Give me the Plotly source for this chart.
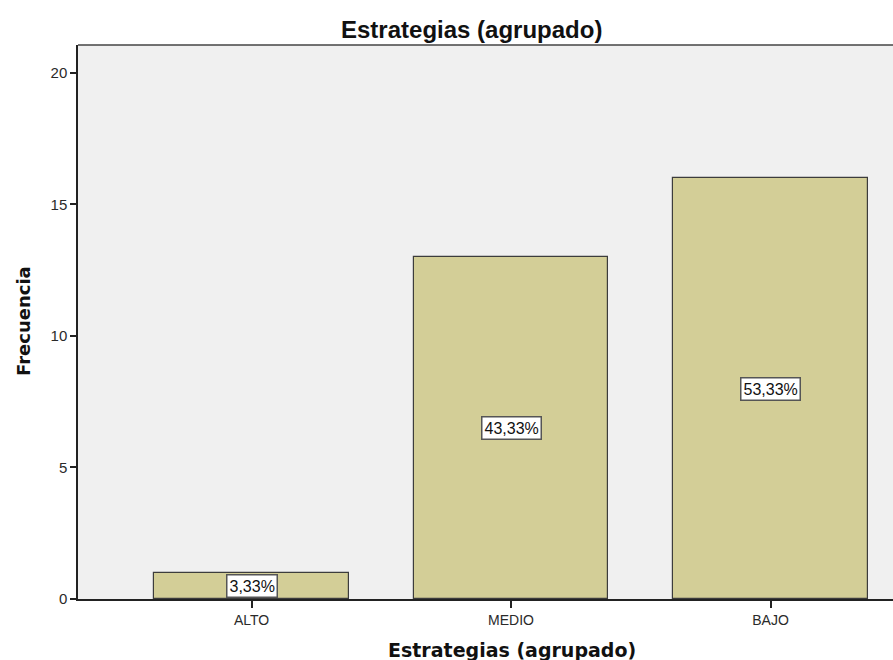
import plotly.graph_objects as go

categories = ["ALTO", "MEDIO", "BAJO"]
counts = [1, 13, 16]
pct_labels = ["3,33%", "43,33%", "53,33%"]
y_ticks = [0, 5, 10, 15, 20]

BAR_FILL = "#d3ce97"
BAR_EDGE = "#3c3c3c"
PLOT_BG = "#f0f0f0"

fig = go.Figure()
fig.add_trace(go.Bar(
    x=list(range(len(categories))), y=counts, width=0.75,
    marker=dict(color=BAR_FILL, line=dict(color=BAR_EDGE, width=1.2)),
    hoverinfo="skip",
))

# boxed percentage labels at half bar height
for i, (c, lab) in enumerate(zip(counts, pct_labels)):
    fig.add_annotation(
        x=i, y=c / 2, text=lab, showarrow=False,
        font=dict(family="Liberation Sans, Arial", size=16, color="#111"),
        bgcolor="white", bordercolor="#555", borderwidth=1.5, borderpad=2,
    )

fig.update_layout(
    width=893, height=660,
    margin=dict(l=78, r=0, t=45, b=61),
    paper_bgcolor="white", plot_bgcolor=PLOT_BG,
    showlegend=False, bargap=0,
    font=dict(family="Liberation Sans, Arial", size=14, color="#222"),
    xaxis=dict(
        range=[-0.669, 2.472],
        tickvals=list(range(len(categories))), ticktext=categories,
        ticks="outside", ticklen=7, tickwidth=1.5, tickcolor="#222",
        showline=True, linecolor="#222", linewidth=1.5, mirror=False,
        showgrid=False, zeroline=False,
        tickfont=dict(size=14, color="#2a2a2a"),
    ),
    yaxis=dict(
        range=[0, 21.06], tickvals=y_ticks,
        ticks="outside", ticklen=6, tickwidth=1.5, tickcolor="#222",
        showline=True, linecolor="#222", linewidth=1.5,
        showgrid=False, zeroline=False,
        tickfont=dict(size=15, color="#2a2a2a"),
    ),
)

# top border of the plot frame
fig.add_shape(type="line", xref="paper", yref="paper", x0=0, x1=1, y0=1, y1=1,
              line=dict(color="#444", width=1.5))

fig.add_annotation(text="<b>Estrategias (agrupado)</b>", xref="paper", yref="paper",
                   x=(471 - 78) / 815, y=1, yanchor="bottom", yshift=0, showarrow=False,
                   font=dict(family="Liberation Sans, Arial", size=24, color="#111"))
fig.add_annotation(text="<b>Estrategias (agrupado)</b>", xref="paper", yref="paper",
                   x=(512 - 78) / 815, y=0, yanchor="top", yshift=-38, showarrow=False,
                   font=dict(family="DejaVu Sans", size=19, color="#111"))
fig.add_annotation(text="<b>Frecuencia</b>", xref="paper", yref="paper",
                   x=0, xanchor="center", xshift=-55, y=(599 - 321) / 554, textangle=-90,
                   showarrow=False, font=dict(family="DejaVu Sans", size=18, color="#111"))

# drop the default body margin so the figure fills the window exactly
fig.write_html(
    "out.html",
    config={"displayModeBar": False},
    post_script="document.body.style.margin='0';document.body.style.overflow='hidden';",
)
